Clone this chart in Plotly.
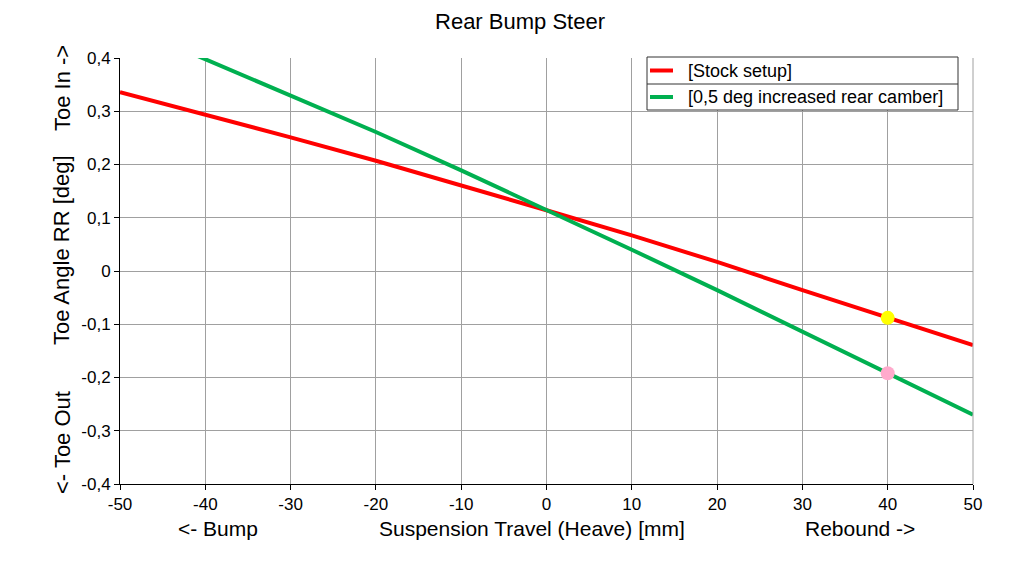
import plotly.graph_objects as go

travel = [-50, -40, -30, -20, -10, 0, 10, 20, 30, 40, 50]
stock_toe = [0.336, 0.294, 0.251, 0.207, 0.161, 0.114, 0.067, 0.017, -0.036, -0.088, -0.139]
camber_toe = [0.466, 0.398, 0.330, 0.261, 0.189, 0.115, 0.040, -0.036, -0.114, -0.192, -0.270]
series_names = ["[Stock setup]", "[0,5 deg increased rear camber]"]
series_colors = ["#FF0000", "#00B050"]
point_x = [40]
point_stock = [-0.088]
point_camber = [-0.192]

x_ticks = [-50, -40, -30, -20, -10, 0, 10, 20, 30, 40, 50]
x_ticktext = ["-50", "-40", "-30", "-20", "-10", "0", "10", "20", "30", "40", "50"]
y_ticks = [-0.4, -0.3, -0.2, -0.1, 0, 0.1, 0.2, 0.3, 0.4]
y_ticktext = ["-0,4", "-0,3", "-0,2", "-0,1", "0", "0,1", "0,2", "0,3", "0,4"]

FONT = "Liberation Sans, Arial, sans-serif"

# page offset (body margin) of 8 px
OFF = 8
PL, PR, PT, PB = 120, 973, 58, 484  # plot area in page pixels
PW, PH = PR - PL, PB - PT


def px(xp):
    return (xp - PL) / PW


def py(yp):
    return (PB - yp) / PH


fig = go.Figure()
for name, vals, col in zip(series_names, [stock_toe, camber_toe], series_colors):
    fig.add_trace(go.Scatter(x=travel, y=vals, mode="lines", name=name,
                             line=dict(color=col, width=4)))
fig.add_trace(go.Scatter(x=point_x, y=point_stock, mode="markers", showlegend=False,
                         marker=dict(color="#FFFF00", size=14, line=dict(width=0))))
fig.add_trace(go.Scatter(x=point_x, y=point_camber, mode="markers", showlegend=False,
                         marker=dict(color="#FFAACC", size=14, line=dict(width=0))))

fig.update_layout(
    width=1024, height=570,
    margin=dict(l=PL - OFF, r=1024 - PR + OFF, t=PT - OFF, b=570 - PB + OFF),
    paper_bgcolor="white", plot_bgcolor="white",
    font=dict(family=FONT, color="black", size=17),
    title=dict(text="Rear Bump Steer", x=(520 - OFF) / 1024, xref="container", xanchor="center",
               y=1 - (21 - OFF) / 570, yref="container", yanchor="middle",
               font=dict(size=22, family=FONT, color="black")),
    xaxis=dict(range=[-50, 50], tickvals=x_ticks, ticktext=x_ticktext, showgrid=True,
               gridcolor="#A0A0A0", gridwidth=1, zeroline=False, showline=True,
               linecolor="black", linewidth=1, ticks="outside", ticklen=5,
               tickcolor="black", tickfont=dict(size=17)),
    yaxis=dict(range=[-0.4, 0.4], tickvals=y_ticks, ticktext=y_ticktext, showgrid=True,
               gridcolor="#A0A0A0", gridwidth=1, zeroline=False, showline=True,
               linecolor="black", linewidth=1, ticks="outside", ticklen=5,
               tickcolor="black", tickfont=dict(size=17)),
    showlegend=False,
)

# right border (grey) for the plot area
fig.add_shape(type="line", xref="paper", yref="paper", x0=1, x1=1, y0=0, y1=1,
              line=dict(color="#A0A0A0", width=1))

# legend box with row separator
LX0, LX1, LY0, LY1, LYM = 647, 958, 57, 110, 84
fig.add_shape(type="rect", xref="paper", yref="paper", x0=px(LX0), x1=px(LX1),
              y0=py(LY1), y1=py(LY0), fillcolor="white", line=dict(color="#333333", width=1),
              layer="above")
fig.add_shape(type="line", xref="paper", yref="paper", x0=px(LX0), x1=px(LX1),
              y0=py(LYM), y1=py(LYM), line=dict(color="#333333", width=1), layer="above")
for i, (name, col) in enumerate(zip(series_names, series_colors)):
    yc = (LY0 + LYM) / 2 if i == 0 else (LYM + LY1) / 2
    fig.add_shape(type="line", xref="paper", yref="paper", x0=px(650), x1=px(673),
                  y0=py(yc), y1=py(yc), line=dict(color=col, width=4), layer="above")
    fig.add_annotation(text=name, xref="paper", yref="paper", x=px(686), y=py(yc),
                       xanchor="left", yanchor="middle", showarrow=False,
                       font=dict(family=FONT, size=18, color="black"))

for txt, yp in [("Toe In ->", 88), ("Toe Angle RR [deg]", 250), ("<- Toe Out", 443)]:
    fig.add_annotation(text=txt, xref="paper", yref="paper", x=px(62), y=py(yp),
                       xanchor="center", yanchor="middle", textangle=-90,
                       showarrow=False, font=dict(family=FONT, size=22, color="black"))
for txt, xp in [("<- Bump", 218), ("Suspension Travel (Heave) [mm]", 532), ("Rebound ->", 860)]:
    fig.add_annotation(text=txt, xref="paper", yref="paper", x=px(xp), y=py(528),
                       xanchor="center", yanchor="middle", showarrow=False,
                       font=dict(family=FONT, size=21, color="black"))

fig.write_html("out.html")
